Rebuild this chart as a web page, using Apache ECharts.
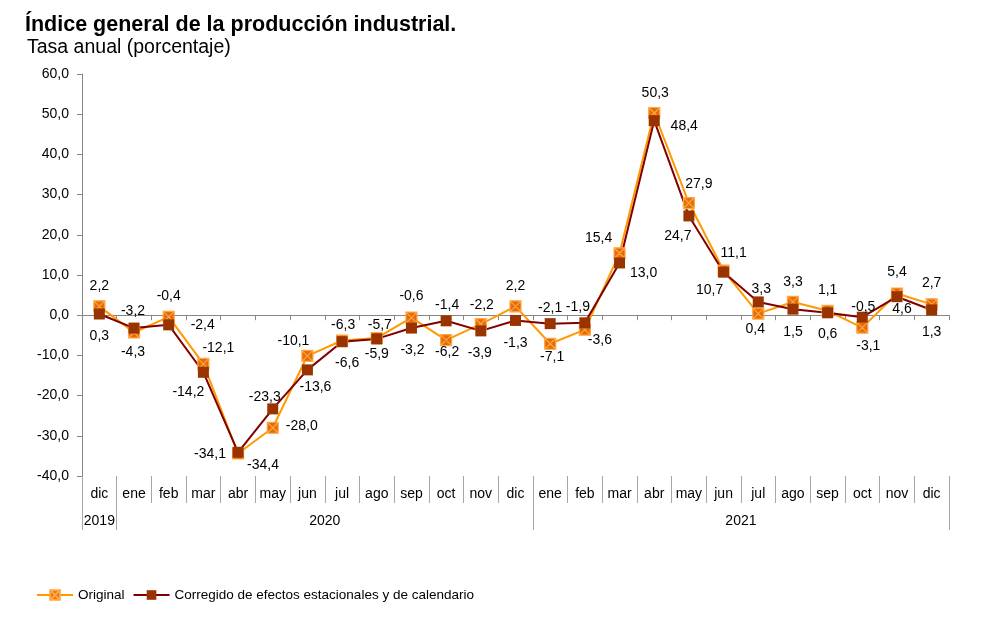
<!DOCTYPE html>
<html lang="es">
  <head>
    <meta charset="UTF-8" />
    <title>Índice general de la producción industrial</title>
    <style>
      html, body { margin: 0; padding: 0; background: #fff; }
      #main { width: 987px; height: 621px; }
    </style>
  </head>
  <body>
    <div id="main"></div>

    <script src="https://cdn.jsdelivr.net/npm/echarts@6/dist/echarts.min.js"></script>
    <script>
      // datos: tasa anual (%)
      var months = ["dic", "ene", "feb", "mar", "abr", "may", "jun", "jul", "ago", "sep", "oct", "nov", "dic",
                    "ene", "feb", "mar", "abr", "may", "jun", "jul", "ago", "sep", "oct", "nov", "dic"];
      var years = ["2019", "2020", "2021"];
      var monthsPerYear = [1, 12, 12];

      var original = [2.2, -4.3, -0.4, -12.1, -34.4, -28.0, -10.1, -6.3, -5.7, -0.6, -6.2, -2.2, 2.2,
                      -7.1, -3.6, 15.4, 50.3, 27.9, 11.1, 0.4, 3.3, 1.1, -3.1, 5.4, 2.7];
      var corregido = [0.3, -3.2, -2.4, -14.2, -34.1, -23.3, -13.6, -6.6, -5.9, -3.2, -1.4, -3.9, -1.3,
                       -2.1, -1.9, 13.0, 48.4, 24.7, 10.7, 3.3, 1.5, 0.6, -0.5, 4.6, 1.3];

      // desplazamiento de cada etiqueta respecto a su punto (px)
      var origOffset = [[0, -20], [-1, 20], [0, -21], [15, -16], [25, 12], [29, -2], [-14, -15], [1, -15],
                        [3, -13], [0, -21], [1, 12], [1, -19], [0, -20], [2, 13], [15, 10], [-21, -15],
                        [1, -20], [10, -19], [10, -17], [-3, 16], [0, -20], [0, -21], [6, 18], [0, -21], [0, -21]];
      var corrOffset = [[0, 22], [-1, -17], [34, 0], [-15, 20], [-28, 2], [-8, -12], [8, 17], [5, 21],
                        [0, 15], [1, 22], [1, -16], [-1, 22], [0, 23], [0, -16], [-7, -16], [24, 10],
                        [30, 6], [-11, 20], [-14, 18], [3, -13], [0, 23], [0, 21], [1, -10], [5, 12], [0, 22]];

      var fmt = function (v) {
        return v.toFixed(1).replace(".", ",");
      };

      // eje auxiliar de medio mes para los años y sus separadores
      var yearSlots = [];
      var yearLabelIdx = [];
      var yearTickIdx = [0];
      var start = 0;
      for (var i = 0; i <= months.length * 2; i++) yearSlots.push("");
      years.forEach(function (y, k) {
        yearSlots[2 * start + monthsPerYear[k]] = y;
        yearLabelIdx.push(2 * start + monthsPerYear[k]);
        start += monthsPerYear[k];
        yearTickIdx.push(2 * start);
      });

      var toItems = function (vals, offs) {
        return vals.map(function (v, i) {
          return { value: v, label: { offset: offs[i] } };
        });
      };

      var font = "'Liberation Sans', Arial, sans-serif";
      var myChart = echarts.init(document.getElementById("main"), null, { renderer: "canvas" });

      var option = {
        animation: false,
        backgroundColor: "#fff",
        textStyle: { fontFamily: font },
        title: [
          {
            text: "Índice general de la producción industrial.",
            left: 25,
            top: 14,
            padding: 0,
            textStyle: { fontSize: 21.5, fontWeight: "bold", color: "#000", fontFamily: font },
          },
          {
            text: "Tasa anual (porcentaje)",
            left: 27,
            top: 38,
            padding: 0,
            textStyle: { fontSize: 19.5, fontWeight: "normal", color: "#000", fontFamily: font },
          },
        ],
        legend: {
          left: 36,
          top: 588,
          padding: 0,
          itemWidth: 36,
          itemHeight: 12,
          itemGap: 8,
          textStyle: { fontSize: 13.5, color: "#000", fontFamily: font },
          data: ["Original", "Corregido de efectos estacionales y de calendario"],
        },
        grid: { left: 82, right: 38, top: 74, bottom: 145 },
        xAxis: [
          {
            type: "category",
            data: months,
            axisLine: { onZero: true, lineStyle: { color: "#868686", width: 1 } },
            axisTick: { show: true, interval: 0, length: 5, lineStyle: { color: "#868686" } },
            axisLabel: { show: false },
          },
          {
            type: "category",
            data: months,
            position: "bottom",
            axisLine: { show: false, onZero: false },
            axisTick: { show: true, interval: 0, length: 27, lineStyle: { color: "#a6a6a6" } },
            axisLabel: { interval: 0, margin: 11, fontSize: 14, color: "#000", fontFamily: font },
          },
          {
            type: "category",
            data: yearSlots,
            boundaryGap: false,
            position: "bottom",
            axisLine: { show: false, onZero: false },
            axisTick: {
              show: true,
              length: 54,
              interval: function (idx) { return yearTickIdx.indexOf(idx) >= 0; },
              lineStyle: { color: "#a6a6a6" },
            },
            axisLabel: {
              margin: 38,
              fontSize: 14,
              color: "#000",
              fontFamily: font,
              interval: function (idx) { return yearLabelIdx.indexOf(idx) >= 0; },
            },
          },
        ],
        yAxis: {
          type: "value",
          min: -40,
          max: 60,
          interval: 10,
          axisLine: { show: true, lineStyle: { color: "#868686" } },
          axisTick: { show: true, length: 5, lineStyle: { color: "#868686" } },
          splitLine: { show: false },
          axisLabel: { formatter: fmt, fontSize: 14, color: "#000", margin: 13, fontFamily: font },
        },
        series: [
          {
            name: "Original",
            type: "line",
            xAxisIndex: 0,
            data: toItems(original, origOffset),
            symbol: "path://M0,0L10,0L10,10L0,10Z M0,0L10,10 M10,0L0,10",
            symbolSize: 11,
            lineStyle: { color: "#ff9900", width: 2 },
            itemStyle: { color: "#e46c0a", borderColor: "#ffa640", borderWidth: 1.2 },
            label: {
              show: true,
              position: "inside",
              formatter: function (p) { return fmt(p.value); },
              fontSize: 14,
              color: "#000",
              fontFamily: font,
            },
          },
          {
            name: "Corregido de efectos estacionales y de calendario",
            type: "line",
            xAxisIndex: 0,
            data: toItems(corregido, corrOffset),
            symbol: "rect",
            symbolSize: 11,
            lineStyle: { color: "#800000", width: 2 },
            itemStyle: { color: "#993300" },
            label: {
              show: true,
              position: "inside",
              formatter: function (p) { return fmt(p.value); },
              fontSize: 14,
              color: "#000",
              fontFamily: font,
            },
          },
        ],
      };
      myChart.setOption(option);
    </script>
  </body>
</html>
